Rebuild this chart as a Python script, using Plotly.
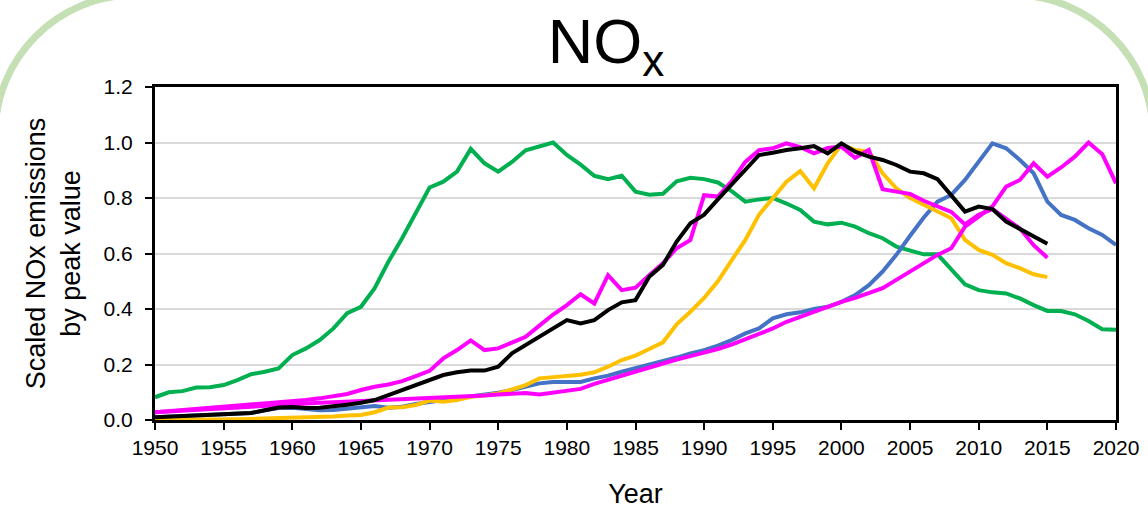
import plotly.graph_objects as go

# Years covered by each group of series
years_full = list(range(1950, 2021))   # 1950-2020
years_short = list(range(1950, 2016))  # 1950-2015

# Scaled NOx emissions (fraction of each series' peak value)
green = [
    0.082, 0.100, 0.104, 0.117, 0.118, 0.126, 0.144, 0.165, 0.174, 0.186,
    0.234, 0.258, 0.288, 0.330, 0.385, 0.408, 0.475, 0.570, 0.655, 0.745,
    0.838, 0.859, 0.895, 0.977, 0.925, 0.895, 0.930, 0.972, 0.986, 1.000,
    0.955, 0.920, 0.880, 0.868, 0.880, 0.823, 0.812, 0.815, 0.860, 0.873,
    0.868, 0.856, 0.825, 0.787, 0.795, 0.800, 0.780, 0.757, 0.715, 0.705,
    0.711, 0.697, 0.673, 0.655, 0.625, 0.610, 0.597, 0.597, 0.545, 0.489,
    0.468, 0.460, 0.456, 0.438, 0.414, 0.393, 0.393, 0.381, 0.357, 0.327,
    0.325,
]

blue = [
    0.010, 0.012, 0.014, 0.016, 0.018, 0.020, 0.022, 0.025, 0.035, 0.043,
    0.044, 0.038, 0.035, 0.036, 0.040, 0.045, 0.050, 0.044, 0.048, 0.058,
    0.066, 0.072, 0.078, 0.084, 0.090, 0.098, 0.108, 0.120, 0.132, 0.137,
    0.137, 0.137, 0.150, 0.160, 0.174, 0.186, 0.198, 0.210, 0.225, 0.240,
    0.252, 0.268, 0.288, 0.312, 0.330, 0.366, 0.381, 0.388, 0.400, 0.408,
    0.426, 0.450, 0.486, 0.535, 0.595, 0.664, 0.730, 0.787, 0.811, 0.865,
    0.931, 0.997, 0.979, 0.937, 0.889, 0.787, 0.739, 0.721, 0.691, 0.667,
    0.631,
]

magenta_late = [
    0.028, 0.031, 0.034, 0.037, 0.040, 0.043, 0.046, 0.050, 0.053, 0.056,
    0.058, 0.060, 0.062, 0.064, 0.066, 0.068, 0.070, 0.072, 0.074, 0.077,
    0.079, 0.081, 0.083, 0.086, 0.088, 0.092, 0.095, 0.097, 0.092, 0.098,
    0.105, 0.112, 0.130, 0.145, 0.160, 0.175, 0.190, 0.205, 0.218, 0.230,
    0.242, 0.256, 0.272, 0.290, 0.310, 0.330, 0.354, 0.372, 0.390, 0.408,
    0.426, 0.440, 0.458, 0.475, 0.505, 0.535, 0.565, 0.595, 0.619, 0.697,
    0.733, 0.770, 0.841, 0.865, 0.925, 0.877, 0.910, 0.949, 1.000, 0.958,
    0.853,
]

magenta_early = [
    0.028, 0.032, 0.036, 0.039, 0.042, 0.046, 0.050, 0.054, 0.058, 0.062,
    0.066, 0.072, 0.078, 0.085, 0.094, 0.108, 0.120, 0.128, 0.140, 0.158,
    0.177, 0.222, 0.252, 0.287, 0.252, 0.258, 0.279, 0.300, 0.340, 0.380,
    0.414, 0.453, 0.420, 0.522, 0.468, 0.477, 0.522, 0.565, 0.619, 0.649,
    0.810, 0.805, 0.860, 0.930, 0.972, 0.979, 0.997, 0.983, 0.961, 0.980,
    0.985, 0.945, 0.973, 0.832, 0.823, 0.815, 0.790, 0.770, 0.750, 0.705,
    0.740, 0.760, 0.725, 0.690, 0.630, 0.585,
]

orange = [
    0.000, 0.000, 0.001, 0.001, 0.002, 0.002, 0.003, 0.004, 0.005, 0.006,
    0.008, 0.009, 0.011, 0.013, 0.016, 0.018, 0.028, 0.045, 0.046, 0.054,
    0.070, 0.066, 0.072, 0.084, 0.088, 0.096, 0.110, 0.126, 0.150, 0.155,
    0.158, 0.163, 0.172, 0.192, 0.216, 0.232, 0.256, 0.280, 0.345, 0.390,
    0.440, 0.500, 0.575, 0.649, 0.740, 0.799, 0.859, 0.897, 0.835, 0.925,
    0.993, 0.973, 0.967, 0.889, 0.835, 0.800, 0.775, 0.751, 0.727, 0.649,
    0.613, 0.595, 0.565, 0.547, 0.525, 0.515,
]

black = [
    0.010, 0.012, 0.014, 0.016, 0.018, 0.020, 0.022, 0.025, 0.035, 0.045,
    0.047, 0.043, 0.044, 0.048, 0.055, 0.062, 0.072, 0.090, 0.108, 0.126,
    0.144, 0.162, 0.172, 0.178, 0.178, 0.192, 0.240, 0.270, 0.300, 0.330,
    0.360, 0.348, 0.360, 0.396, 0.424, 0.432, 0.516, 0.559, 0.643, 0.709,
    0.740, 0.795, 0.850, 0.900, 0.955, 0.963, 0.973, 0.979, 0.987, 0.961,
    0.997, 0.967, 0.949, 0.937, 0.919, 0.895, 0.889, 0.868, 0.810, 0.751,
    0.769, 0.760, 0.715, 0.688, 0.661, 0.635,
]

x_ticks = list(range(1950, 2021, 5))
y_ticks = [0.0, 0.2, 0.4, 0.6, 0.8, 1.0, 1.2]

# Drawing order: later traces sit on top
series = [
    (years_full, green, "#00B050"),
    (years_full, blue, "#4472C4"),
    (years_short, orange, "#FFC000"),
    (years_full, magenta_late, "#FF00FF"),
    (years_short, magenta_early, "#FF00FF"),
    (years_short, black, "#000000"),
]

fig = go.Figure()
for xs, ys, col in series:
    fig.add_trace(go.Scatter(
        x=xs, y=ys, mode="lines",
        line=dict(color=col, width=4),
        showlegend=False, hoverinfo="skip",
    ))

W, H = 1148, 515
ML, MR, MT, MB = 155, 32, 87, 95
PW, PH = W - ML - MR, H - MT - MB


def px(x):
    return (x - ML) / PW


def py(y):
    return (H - MB - y) / PH


# Light green rounded frame around the slide; only its top corners show
L, R, T, Bt, rad = -5, W + 5, -5, H + 200, 140
k = 0.5523 * rad
frame = (
    f"M {px(L)},{py(Bt)} L {px(L)},{py(T + rad)} "
    f"C {px(L)},{py(T + rad - k)} {px(L + rad - k)},{py(T)} {px(L + rad)},{py(T)} "
    f"L {px(R - rad)},{py(T)} "
    f"C {px(R - rad + k)},{py(T)} {px(R)},{py(T + rad - k)} {px(R)},{py(T + rad)} "
    f"L {px(R)},{py(Bt)}"
)
fig.add_shape(type="path", path=frame, xref="paper", yref="paper",
              line=dict(color="#C5E0B4", width=7), layer="below")

axis_font = dict(family="Liberation Sans, Arial, sans-serif", size=21, color="black")

fig.update_layout(
    width=W, height=H,
    margin=dict(l=ML, r=MR, t=MT, b=MB, autoexpand=False),
    paper_bgcolor="white", plot_bgcolor="white",
    font=dict(family="Liberation Sans, Arial, sans-serif", color="black"),
    title=dict(
        text="NO<sub>x</sub>",
        font=dict(size=63, color="black"),
        x=606 / W, xanchor="center",
        y=1 - 41 / H, yanchor="middle", yref="container",
    ),
    xaxis=dict(
        range=[1950, 2020], tickvals=x_ticks, ticktext=[str(v) for v in x_ticks],
        ticks="outside", ticklen=7, tickwidth=2, tickcolor="black",
        showline=True, linewidth=3, linecolor="black", mirror=True,
        showgrid=False, zeroline=False, tickfont=axis_font,
        title=dict(text="Year", font=dict(size=27), standoff=26),
    ),
    yaxis=dict(
        range=[0, 1.2], tickvals=y_ticks, tickformat=".1f",
        ticks="outside", ticklen=7, tickwidth=2, tickcolor="black",
        showline=True, linewidth=3, linecolor="black", mirror=True,
        showgrid=True, gridcolor="#D9D9D9", gridwidth=2, zeroline=False,
        tickfont=axis_font, ticklabelstandoff=8,
        title=dict(text="Scaled NOx emissions<br>by peak value",
                   font=dict(size=27), standoff=16),
    ),
)

fig.write_html("out.html")
